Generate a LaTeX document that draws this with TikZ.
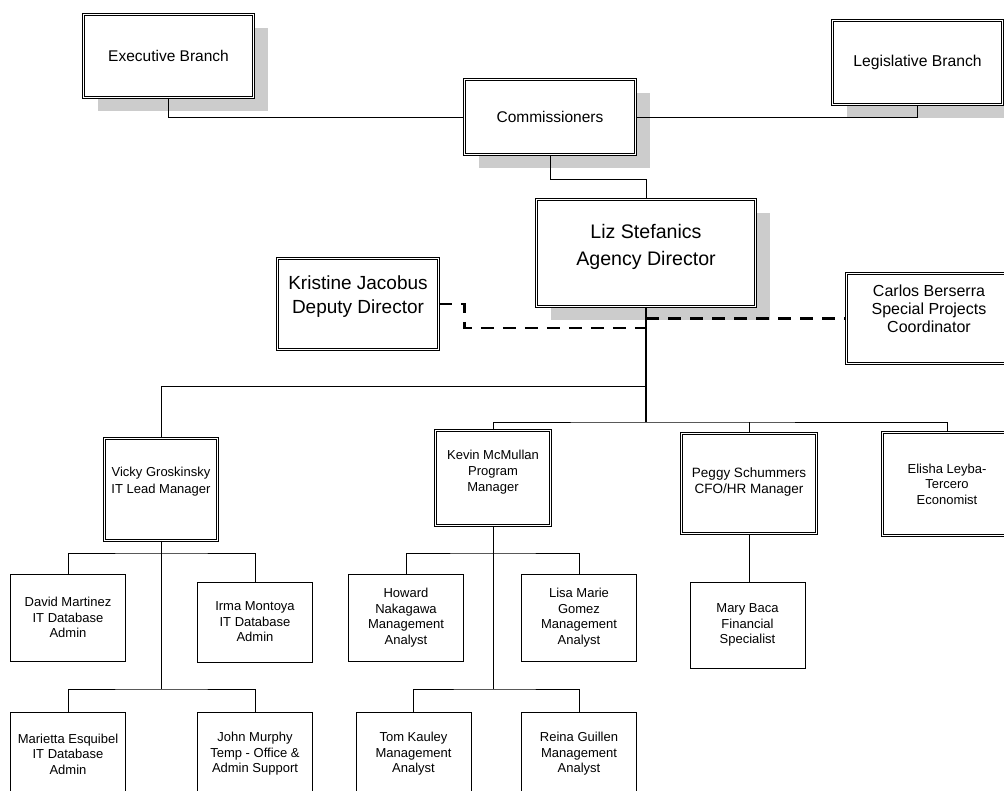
\documentclass[tikz,border=0pt]{standalone}
\usepackage{fontspec}
\setmainfont{Liberation Sans}
\usetikzlibrary{shadows}
\usetikzlibrary{positioning}
\usetikzlibrary{calc}
\tikzstyle{frame}=[draw,line width=0.7pt,double=white,double distance=1.6pt,fill=white,align=center,inner sep=2pt]
\tikzstyle{shade}=[drop shadow={shadow xshift=14pt,shadow yshift=-14pt,fill=black!20,opacity=1}]
\tikzstyle{leaf}=[draw,line width=0.8pt,fill=white,align=center,inner sep=2pt,minimum width=115pt,font=\fontsize{13}{15.5}\selectfont]
\tikzstyle{edge}=[draw,line width=0.8pt]
\tikzstyle{trunk}=[draw,line width=1.8pt]
\tikzstyle{dashlink}=[draw,line width=2.8pt,dash pattern=on 13pt off 9pt]
\newcommand{\dropby}[1]{\rule[-#1]{0pt}{0pt}}

\begin{document}
\begin{tikzpicture}[x=1pt,y=-1pt]
   \useasboundingbox (0,0) rectangle (1004,791);
   \clip (0,0) rectangle (1004,791);

   % top of the chart
   \node[frame,shade,minimum width=170pt,minimum height=83pt,font=\fontsize{15.5}{18}\selectfont] (exec) at (168.5,56) {Executive Branch};
   \node[frame,shade,minimum width=171pt,minimum height=75pt,font=\fontsize{15.5}{18}\selectfont] (comm) at (550,117) {Commissioners};
   \node[frame,shade,minimum width=170pt,minimum height=84pt,font=\fontsize{15.7}{18}\selectfont] (legis) at (917.5,62.5) {Legislative Branch};
   \node[frame,shade,minimum width=219pt,minimum height=107pt,font=\fontsize{19.6}{27}\selectfont] (dir) at (646,253) {Liz Stefanics\\Agency Director\dropby{16pt}};
   \node[frame,minimum width=161pt,minimum height=91pt,font=\fontsize{19}{24}\selectfont] (kristine) at (358,304) {Kristine Jacobus\\Deputy Director\dropby{18pt}};
   \node[frame,minimum width=165pt,minimum height=90pt,font=\fontsize{16}{18}\selectfont] (carlos) at (929,318.5) {Carlos Berserra\\Special Projects\\Coordinator\dropby{19pt}};

   % managers
   \node[frame,minimum width=113pt,minimum height=102pt,font=\fontsize{13}{17}\selectfont] (vicky) at (161,489.5) {Vicky Groskinsky\\IT Lead Manager\dropby{19pt}};
   \node[frame,minimum width=115pt,minimum height=95pt,font=\fontsize{13}{16}\selectfont] (kevin) at (493,478) {Kevin McMullan\\Program\\Manager\dropby{14pt}};
   \node[frame,minimum width=135pt,minimum height=100pt,font=\fontsize{13.5}{16}\selectfont] (peggy) at (749,483.5) {Peggy Schummers\\CFO/HR Manager\dropby{5pt}};
   \node[frame,minimum width=129pt,minimum height=103pt,font=\fontsize{13}{15.5}\selectfont] (elisha) at (947,484) {Elisha Leyba-\\Tercero\\Economist};

   % staff
   \foreach \name/\pos/\hgt/\txt in {david/{(68,617.5)}/87/{David Martinez\\IT Database\\Admin},
            irma/{(255,622)}/80/{Irma Montoya\\IT Database\\Admin},
            marietta/{(68,754)}/84/{Marietta Esquibel\\IT Database\\Admin},
            john/{(255,754)}/84/{John Murphy\\Temp - Office \&\\Admin Support},
            howard/{(406,617.5)}/87/{Howard\\Nakagawa\\Management\\Analyst},
            lisa/{(579,617.5)}/87/{Lisa Marie\\Gomez\\Management\\Analyst},
            tom/{(413.5,754)}/84/{Tom Kauley\\Management\\Analyst},
            reina/{(579,754)}/84/{Reina Guillen\\Management\\Analyst},
            mary/{(747.5,625)}/86/{Mary Baca\\Financial\\Specialist}}
        \node[leaf,minimum height=\hgt pt] (\name) at \pos {\txt};

   \coordinate (topbus) at (646,386);
   \coordinate (midbus) at (646,422);
   \coordinate (vA) at (161,553);
   \coordinate (vB) at (161,689);
   \coordinate (kA) at (493,553);
   \coordinate (kB) at (493,689);
   \coordinate (dashhub) at (646,328);

   \path[edge] (exec.south) |- (comm.west);
   \path[edge] (comm.east) -| (legis.south);
   \path[edge] (comm.south) -- ++(0,25) -| (dir.north);
   \path[trunk] (dir.south) -- (midbus);
   \path[edge] (topbus) -| (vicky.north);
   \path[edge] (kevin.north) |- (midbus) -| (elisha.north);
   \path[edge] (midbus -| peggy.north) -- (peggy.north);

   \path[edge] (vicky.south) -- (vB);
   \path[edge] (david.north) |- (vA) -| (irma.north);
   \path[edge] (marietta.north) |- (vB) -| (john.north);
   \path[edge] (kevin.south) -- (kB);
   \path[edge] (howard.north) |- (kA) -| (lisa.north);
   \path[edge] (tom.north) |- (kB) -| (reina.north);
   \path[edge] (peggy.south) -- (peggy.south |- mary.north);

   \path[dashlink] (kristine.east) -- ++(26,0) |- (dashhub);
   \path[dashlink] (dashhub |- carlos.west) -- (carlos.west);
\end{tikzpicture}
\end{document}
